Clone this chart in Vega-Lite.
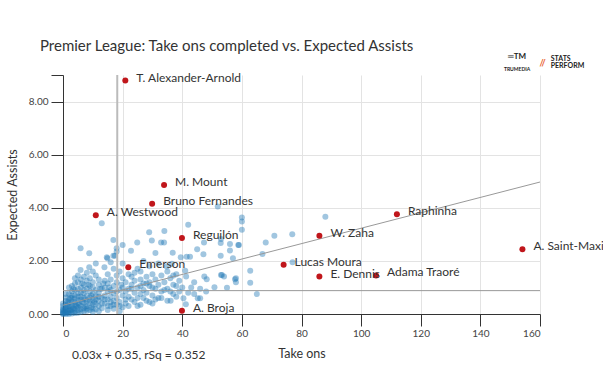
{
  "$schema": "https://vega.github.io/schema/vega-lite/v6.json",
  "width": 477,
  "height": 239,
  "autosize": "none",
  "padding": {"left": 63, "top": 75, "right": 63, "bottom": 63},
  "background": "white",
  "title": {"text": "Premier League: Take ons completed vs. Expected Assists", "anchor": "start", "frame": "group", "dx": -23, "fontSize": 15, "fontWeight": "normal", "color": "#333", "font": "Lato", "offset": -1},
  "datasets": {
    "others": [
      {"x":0,"y":0},{"x":0,"y":0.02},{"x":0,"y":0.05},{"x":0,"y":0.1},{"x":0,"y":0.15},{"x":0,"y":0.2},{"x":0,"y":0.3},{"x":0,"y":0.4},{"x":0.5,"y":0.05},{"x":0.5,"y":0.12},
      {"x":1,"y":0},{"x":1,"y":0.03},{"x":1,"y":0.08},{"x":1,"y":0.18},{"x":1,"y":0.25},{"x":1,"y":0.35},{"x":1,"y":0.5},{"x":1,"y":0.62},{"x":1.5,"y":0.1},{"x":1.5,"y":0.3},
      {"x":2,"y":0},{"x":2,"y":0.05},{"x":2,"y":0.12},{"x":2,"y":0.2},{"x":2,"y":0.3},{"x":2,"y":0.42},{"x":2,"y":0.55},{"x":2,"y":0.75},{"x":2,"y":1.0},{"x":2.5,"y":0.15},
      {"x":3,"y":0.02},{"x":3,"y":0.08},{"x":3,"y":0.16},{"x":3,"y":0.28},{"x":3,"y":0.38},{"x":3,"y":0.48},{"x":3,"y":0.6},{"x":3,"y":0.85},{"x":3,"y":1.05},{"x":3.5,"y":0.22},
      {"x":4,"y":0.04},{"x":4,"y":0.1},{"x":4,"y":0.2},{"x":4,"y":0.33},{"x":4,"y":0.45},{"x":4,"y":0.7},{"x":4,"y":0.9},{"x":4,"y":1.15},{"x":4,"y":1.35},{"x":4.5,"y":0.3},
      {"x":5,"y":0.05},{"x":5,"y":0.14},{"x":5,"y":0.25},{"x":5,"y":0.4},{"x":5,"y":0.52},{"x":5,"y":0.65},{"x":5,"y":0.95},{"x":5,"y":1.2},{"x":5,"y":1.45},{"x":5.5,"y":0.35},
      {"x":6,"y":0.08},{"x":6,"y":0.18},{"x":6,"y":0.3},{"x":6,"y":0.55},{"x":6,"y":0.8},{"x":6,"y":1.0},{"x":6,"y":1.3},{"x":5.9,"y":1.66},{"x":5.9,"y":2.48},{"x":6.5,"y":0.45},
      {"x":7,"y":0.1},{"x":7,"y":0.22},{"x":7,"y":0.42},{"x":7,"y":0.6},{"x":7,"y":0.78},{"x":7,"y":1.1},{"x":7,"y":1.4},{"x":7.5,"y":0.28},{"x":8,"y":0.12},{"x":8,"y":0.3},
      {"x":8,"y":0.5},{"x":8,"y":0.7},{"x":8,"y":0.95},{"x":8,"y":1.25},{"x":8,"y":1.55},{"x":8.8,"y":1.76},{"x":8.8,"y":2.29},{"x":9,"y":0.15},{"x":9,"y":0.4},{"x":9,"y":0.62},
      {"x":9,"y":0.85},{"x":9,"y":1.05},{"x":9,"y":1.35},{"x":9.5,"y":0.25},{"x":10,"y":0.08},{"x":10,"y":0.35},{"x":10,"y":0.55},{"x":10,"y":0.75},{"x":10,"y":1.0},{"x":10,"y":1.2},
      {"x":10,"y":1.6},{"x":10.5,"y":0.45},{"x":11,"y":0.18},{"x":11,"y":0.38},{"x":11,"y":0.68},{"x":11,"y":0.9},{"x":11,"y":1.45},{"x":11,"y":1.9},{"x":12,"y":0.1},{"x":12,"y":0.3},
      {"x":12,"y":0.5},{"x":12,"y":0.8},{"x":12,"y":1.1},{"x":12,"y":1.3},{"x":13,"y":3.42},{"x":13,"y":0.22},{"x":13,"y":0.6},{"x":13,"y":0.95},{"x":13.9,"y":1.76},{"x":14,"y":0.4},
      {"x":14,"y":0.7},{"x":14,"y":1.0},{"x":14,"y":1.25},{"x":14.9,"y":2.1},{"x":14.7,"y":2.14},{"x":15,"y":0.15},{"x":15,"y":0.55},{"x":15,"y":0.85},{"x":15,"y":1.15},{"x":15,"y":1.5},
      {"x":16,"y":0.3},{"x":16,"y":0.65},{"x":16,"y":0.9},{"x":16,"y":1.3},{"x":16,"y":1.95},{"x":16.9,"y":2.79},{"x":16.9,"y":2.19},{"x":17,"y":0.2},{"x":17,"y":0.5},{"x":17,"y":0.78},
      {"x":17,"y":1.05},{"x":17,"y":1.7},{"x":17.4,"y":2.19},{"x":18,"y":2.48},{"x":18,"y":2.35},{"x":18,"y":0.35},{"x":18,"y":0.6},{"x":18,"y":1.2},{"x":18,"y":1.45},{"x":19,"y":0.1},
      {"x":19,"y":0.45},{"x":19,"y":0.9},{"x":19,"y":1.6},{"x":20,"y":0.25},{"x":20,"y":0.7},{"x":20,"y":1.0},{"x":20,"y":1.35},{"x":20,"y":2.6},{"x":20,"y":1.9},{"x":21,"y":0.55},
      {"x":21,"y":0.85},{"x":21,"y":1.2},{"x":22,"y":0.3},{"x":22,"y":0.65},{"x":22,"y":1.5},{"x":22.8,"y":2.38},{"x":23,"y":0.95},{"x":23,"y":1.1},{"x":23,"y":1.4},{"x":24,"y":0.45},
      {"x":24,"y":0.8},{"x":24,"y":1.25},{"x":24.9,"y":2.69},{"x":25,"y":0.6},{"x":25,"y":1.0},{"x":25,"y":1.7},{"x":26,"y":0.35},{"x":26,"y":0.75},{"x":26,"y":1.3},{"x":26,"y":1.6},
      {"x":27,"y":0.9},{"x":27,"y":1.15},{"x":27,"y":2.0},{"x":28,"y":0.5},{"x":28,"y":0.8},{"x":28,"y":1.4},{"x":28.9,"y":3.08},{"x":29,"y":1.05},{"x":29,"y":1.2},{"x":29,"y":1.8},
      {"x":30,"y":0.4},{"x":30,"y":0.7},{"x":30,"y":1.5},{"x":29.8,"y":2.77},{"x":31,"y":0.95},{"x":31,"y":1.3},{"x":31,"y":2.3},{"x":32,"y":0.6},{"x":32,"y":1.1},{"x":32,"y":1.9},
      {"x":32.9,"y":2.69},{"x":33,"y":0.85},{"x":33,"y":1.45},{"x":33.9,"y":2.69},{"x":34,"y":3.13},{"x":34,"y":1.2},{"x":34.8,"y":1.79},{"x":35,"y":0.5},{"x":35,"y":0.95},{"x":35,"y":1.6},
      {"x":36,"y":1.35},{"x":36.1,"y":0.5},{"x":36.5,"y":1.89},{"x":36.8,"y":2.31},{"x":37,"y":0.75},{"x":37,"y":1.1},{"x":38,"y":1.5},{"x":38,"y":1.05},{"x":38,"y":0.65},{"x":39,"y":1.25},
      {"x":39,"y":0.85},{"x":39.5,"y":2.14},{"x":40.4,"y":0.59},{"x":41,"y":1.63},{"x":41.2,"y":0.37},{"x":41.3,"y":1.41},{"x":41.5,"y":2.16},{"x":42,"y":3.36},{"x":42.6,"y":2.16},{"x":43,"y":1.0},
      {"x":44,"y":1.2},{"x":45,"y":2.44},{"x":45.2,"y":0.59},{"x":46,"y":0.59},{"x":46,"y":0.95},{"x":47.1,"y":2.25},{"x":47.3,"y":2.69},{"x":47.4,"y":1.41},{"x":48.2,"y":1.31},{"x":48,"y":0.85},
      {"x":50.8,"y":1.01},{"x":51.9,"y":4.05},{"x":52.9,"y":2.19},{"x":52.9,"y":2.67},{"x":53,"y":1.47},{"x":53,"y":2.82},{"x":53.3,"y":1.47},{"x":54,"y":1.41},{"x":55,"y":0.99},{"x":56,"y":2.64},
      {"x":56,"y":2.39},{"x":57,"y":2.1},{"x":57.7,"y":1.31},{"x":58,"y":1.35},{"x":58,"y":1.2},{"x":58.8,"y":2.6},{"x":59,"y":2.6},{"x":60,"y":3.63},{"x":60,"y":3.48},{"x":60,"y":3.17},
      {"x":62.8,"y":1.63},{"x":62.8,"y":1.18},{"x":65,"y":0.75},{"x":66.9,"y":2.26},{"x":68,"y":2.69},{"x":70.9,"y":2.95},{"x":76.9,"y":3.0},{"x":77,"y":1.95},{"x":88,"y":3.66},
      {"x":1,"y":0.75},{"x":1.5,"y":0.45},{"x":2.5,"y":0.6},{"x":3,"y":0.7},{"x":3.5,"y":0.95},{"x":4,"y":0.58},{"x":5,"y":0.78},{"x":6,"y":0.65},{"x":6.5,"y":1.15},{"x":7,"y":0.9},
      {"x":7.5,"y":0.55},{"x":8,"y":0.2},{"x":8.5,"y":1.1},{"x":9,"y":0.5},{"x":9.5,"y":0.7},{"x":10,"y":0.2},{"x":11,"y":0.55},{"x":12,"y":0.65},{"x":12.5,"y":0.95},{"x":13,"y":0.4},
      {"x":13.5,"y":1.15},{"x":14,"y":0.55},{"x":15,"y":0.3},{"x":15.5,"y":1.0},{"x":16,"y":0.45},{"x":17,"y":0.35},{"x":18,"y":0.85},{"x":19,"y":0.3},{"x":19.5,"y":1.1},{"x":21,"y":0.4},
      {"x":22,"y":0.95},{"x":23,"y":0.55},{"x":24,"y":1.55},{"x":25,"y":0.3},{"x":26,"y":1.05},{"x":27,"y":0.6},{"x":28,"y":1.15},{"x":29,"y":0.45},{"x":30,"y":1.0},{"x":31,"y":0.55},
      {"x":33,"y":0.6},{"x":34,"y":0.9},{"x":36,"y":0.85},{"x":37,"y":1.45},{"x":40,"y":1.0},{"x":42,"y":0.8},{"x":44,"y":0.75}
    ],
    "highlights": [
      {"x":20.9,"y":8.79,"name":"T. Alexander-Arnold"},
      {"x":33.9,"y":4.86,"name":"M. Mount"},
      {"x":29.9,"y":4.15,"name":"Bruno Fernandes"},
      {"x":11.0,"y":3.72,"name":"A. Westwood"},
      {"x":39.9,"y":2.86,"name":"Reguilón"},
      {"x":21.9,"y":1.76,"name":"Emerson"},
      {"x":39.9,"y":0.12,"name":"A. Broja"},
      {"x":86.0,"y":2.95,"name":"W. Zaha"},
      {"x":112.0,"y":3.76,"name":"Raphinha"},
      {"x":74.0,"y":1.85,"name":"Lucas Moura"},
      {"x":86.0,"y":1.41,"name":"E. Dennis"},
      {"x":105.0,"y":1.45,"name":"Adama Traoré"},
      {"x":154.1,"y":2.44,"name":"A. Saint-Maximin"}
    ],
    "fit": [{"x":0,"y":0.33},{"x":160,"y":4.97}],
    "meanx": [{"x":18.2}],
    "meany": [{"y":0.88}],
    "eq": [{"x":3,"y":-1.55,"label":"0.03x + 0.35, rSq = 0.352"}],
    "logoC": [
      {"x":152.3,"y":9.66,"label":"═TM","size":8},
      {"x":152.3,"y":9.23,"label":"TRUMEDIA","size":5}
    ],
    "logoL": [
      {"x":159.8,"y":9.47,"label":"//","size":9,"color":"#e8541e"},
      {"x":163.6,"y":9.6,"label":"STATS","size":7,"color":"#222"},
      {"x":163.6,"y":9.35,"label":"PERFORM","size":7,"color":"#222"}
    ]
  },
  "encoding": {
    "x": {"field": "x", "type": "quantitative", "scale": {"domain": [0, 160], "nice": false, "zero": false},
      "axis": {"title": "Take ons", "values": [0,20,40,60,80,100,120,140,160], "grid": true, "tickSize": 12, "labelPadding": 2, "titlePadding": 9}},
    "y": {"field": "y", "type": "quantitative", "scale": {"domain": [0, 9], "nice": false, "zero": false},
      "axis": {"title": "Expected Assists", "values": [0,2,4,6,8,9], "grid": true, "tickSize": 12, "labelPadding": 3, "titlePadding": 9,
        "labelExpr": "datum.value == 9 ? '' : format(datum.value, '.2f')",
        "gridOpacity": {"condition": {"test": "datum.value == 9", "value": 0}, "value": 1}}}
  },
  "layer": [
    {"data": {"name": "others"}, "mark": {"type": "circle", "size": 36, "color": "#1f77b4", "opacity": 0.42}},
    {"data": {"name": "meanx"}, "mark": {"type": "rule", "color": "#bbb", "strokeWidth": 2}, "encoding": {"y": null}},
    {"data": {"name": "meany"}, "mark": {"type": "rule", "color": "#999", "strokeWidth": 1}, "encoding": {"x": null}},
    {"data": {"name": "fit"}, "mark": {"type": "line", "color": "#999", "strokeWidth": 1}},
    {"data": {"name": "highlights"}, "mark": {"type": "circle", "size": 36, "color": "#c0161b", "opacity": 1}},
    {"data": {"name": "highlights"}, "mark": {"type": "text", "align": "left", "baseline": "middle", "dx": 11, "dy": -3, "fontSize": 12, "font": "Lato", "color": "#333"}, "encoding": {"text": {"field": "name"}}},
    {"data": {"name": "eq"}, "mark": {"type": "text", "align": "left", "baseline": "middle", "fontSize": 12, "font": "Lato", "color": "#333"}, "encoding": {"text": {"field": "label"}}},
    {"data": {"name": "logoC"}, "mark": {"type": "text", "align": "center", "baseline": "middle", "font": "Lato", "fontWeight": "bold", "color": "#222"}, "encoding": {"text": {"field": "label"}, "size": {"field": "size", "type": "quantitative", "scale": null}}},
    {"data": {"name": "logoL"}, "mark": {"type": "text", "align": "left", "baseline": "middle", "font": "Lato", "fontWeight": "bold"}, "encoding": {"text": {"field": "label"}, "size": {"field": "size", "type": "quantitative", "scale": null}, "color": {"field": "color", "type": "nominal", "scale": null}}}
  ],
  "config": {
    "view": {"stroke": null},
    "font": "Lato",
    "axis": {"domainColor": "#333", "tickColor": "#333", "gridColor": "#e3e3e3", "labelColor": "#444", "labelFontSize": 10, "titleFontSize": 12.5, "titleFontWeight": "normal", "titleColor": "#333", "labelFont": "Lato", "titleFont": "Lato"}
  }
}
